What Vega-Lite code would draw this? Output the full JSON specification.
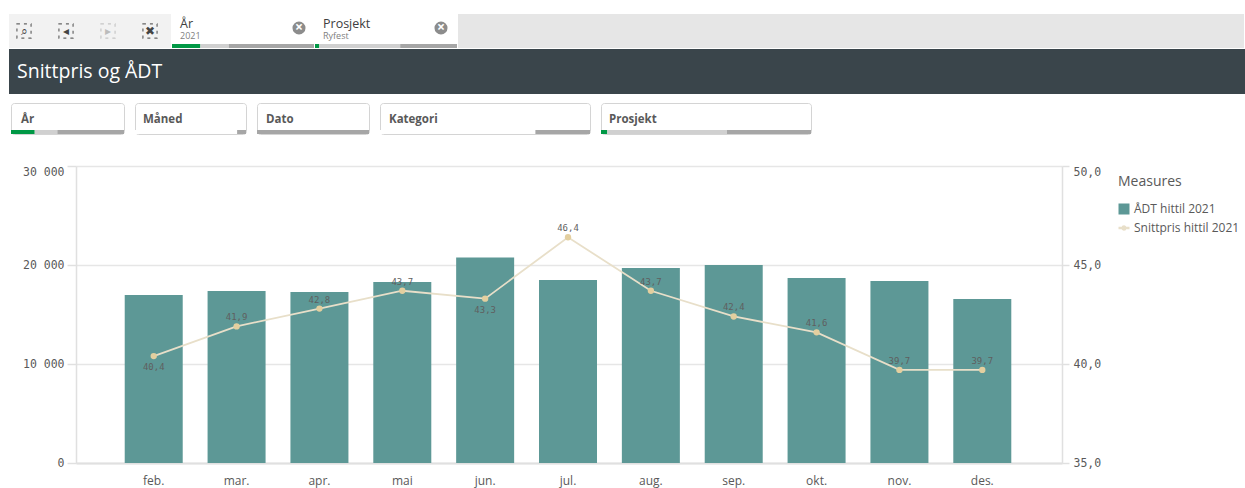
{
"$schema":"https://vega.github.io/schema/vega-lite/v6.json",
"padding":{"left":6,"top":14,"right":0,"bottom":8},
"background":"white",
"config":{"locale":{"number":{"decimal":",","thousands":"\u2009","grouping":[3],"currency":["","" ]}},"font":"Open Sans","concat":{"spacing":0}},
"spacing":28,
"resolve":{"scale":{"color":"independent"}},
"vconcat":[
{"spacing":6,"resolve":{"scale":{"color":"independent"}},"vconcat":[
 {"spacing":1,"resolve":{"scale":{"color":"independent"}},"vconcat":[
  {"spacing":1,"resolve":{"scale":{"color":"independent"}},"hconcat":[
   {"width":162,"height":34,"view":{"fill":"#f2f2f2","stroke":null},
    "data":{"values":[{"tool":"zoom","glyph":"⌕","c":"on"},{"tool":"back","glyph":"◂","c":"on"},{"tool":"forward","glyph":"▸","c":"off"},{"tool":"clear","glyph":"✖","c":"on"}]},
    "encoding":{"x":{"field":"tool","type":"nominal","sort":null,"scale":{"type":"point","padding":0,"domain":["zoom","back","forward","clear"],"range":[15,141]},"axis":null},
      "opacity":{"field":"c","type":"nominal","scale":{"domain":["on","off"],"range":[1,0.3]},"legend":null}},
    "layer":[{"mark":{"type":"point","shape":"square","size":200,"filled":false,"stroke":"#666","strokeWidth":1.2,"strokeDash":[3,4]}},
     {"mark":{"type":"text","fontSize":12,"color":"#444","font":"DejaVu Sans"},"encoding":{"text":{"field":"glyph"}}}]},
   {"width":142,"height":34,"view":{"fill":"white","stroke":null},
    "title":{"text":"År","subtitle":"2021","anchor":"start","frame":"group","offset":-27,"dx":8,"fontSize":12.5,"fontWeight":"normal","color":"#404040","font":"Open Sans","subtitleFontSize":9,"subtitleColor":"#808080","subtitlePadding":2,"subtitleFont":"Open Sans"},
    "layer":[
     {"data":{"values":[{"row":"strip","state":"selected","share":20,"i":1},{"row":"strip","state":"possible","share":20,"i":2},{"row":"strip","state":"excluded","share":60,"i":3}]},
      "mark":{"type":"bar","size":4},
      "encoding":{"x":{"field":"share","type":"quantitative","stack":"zero","scale":{"domain":[0,100],"nice":false},"axis":null},"y":{"field":"row","type":"nominal","scale":{"type":"point","padding":0,"domain":["close","strip"],"range":[14,32]},"axis":null},"color":{"field":"state","type":"nominal","scale":{"domain":["selected","possible","excluded","none"],"range":["#009845","#d0d0d0","#a6a6a6","#ffffff"]},"legend":null},"order":{"field":"i"}}},
     {"data":{"values":[{"row":"close","icon":"close"}]},"mark":{"type":"point","filled":true,"size":170,"color":"#8c8c8c","opacity":1},
      "encoding":{"x":{"field":"icon","type":"nominal","scale":{"type":"point","domain":["close"],"range":[127,127]},"axis":null},"y":{"field":"row","type":"nominal","scale":{"type":"point","padding":0,"domain":["close","strip"],"range":[14,32]},"axis":null}}},
     {"data":{"values":[{"row":"close","icon":"close","g":"×"}]},"mark":{"type":"text","color":"white","fontSize":14,"fontWeight":"bold"},
      "encoding":{"text":{"field":"g"},"x":{"field":"icon","type":"nominal","scale":{"type":"point","domain":["close"],"range":[127,127]},"axis":null},"y":{"field":"row","type":"nominal","scale":{"type":"point","padding":0,"domain":["close","strip"],"range":[14,32]},"axis":null}}}
    ],"resolve":{"scale":{"x":"independent"}}},
   {"width":142,"height":34,"view":{"fill":"white","stroke":null},
    "title":{"text":"Prosjekt","subtitle":"Ryfest","anchor":"start","frame":"group","offset":-27,"dx":8,"fontSize":12.5,"fontWeight":"normal","color":"#404040","font":"Open Sans","subtitleFontSize":9,"subtitleColor":"#808080","subtitlePadding":2,"subtitleFont":"Open Sans"},
    "layer":[
     {"data":{"values":[{"row":"strip","state":"selected","share":3,"i":1},{"row":"strip","state":"possible","share":57,"i":2},{"row":"strip","state":"excluded","share":40,"i":3}]},
      "mark":{"type":"bar","size":4},
      "encoding":{"x":{"field":"share","type":"quantitative","stack":"zero","scale":{"domain":[0,100],"nice":false},"axis":null},"y":{"field":"row","type":"nominal","scale":{"type":"point","padding":0,"domain":["close","strip"],"range":[14,32]},"axis":null},"color":{"field":"state","type":"nominal","scale":{"domain":["selected","possible","excluded","none"],"range":["#009845","#d0d0d0","#a6a6a6","#ffffff"]},"legend":null},"order":{"field":"i"}}},
     {"data":{"values":[{"row":"close","icon":"close"}]},"mark":{"type":"point","filled":true,"size":170,"color":"#8c8c8c","opacity":1},
      "encoding":{"x":{"field":"icon","type":"nominal","scale":{"type":"point","domain":["close"],"range":[126,126]},"axis":null},"y":{"field":"row","type":"nominal","scale":{"type":"point","padding":0,"domain":["close","strip"],"range":[14,32]},"axis":null}}},
     {"data":{"values":[{"row":"close","icon":"close","g":"×"}]},"mark":{"type":"text","color":"white","fontSize":14,"fontWeight":"bold"},
      "encoding":{"text":{"field":"g"},"x":{"field":"icon","type":"nominal","scale":{"type":"point","domain":["close"],"range":[126,126]},"axis":null},"y":{"field":"row","type":"nominal","scale":{"type":"point","padding":0,"domain":["close","strip"],"range":[14,32]},"axis":null}}}
    ],"resolve":{"scale":{"x":"independent"}}},
   {"width":786,"height":34,"view":{"fill":"#e6e6e6","stroke":null},"data":{"values":[{}]},"mark":{"type":"point","opacity":0}}
  ]},
  {"width":1236,"height":45,"view":{"fill":"#3a454b","stroke":null},"data":{"values":[{}]},"mark":{"type":"point","opacity":0},
   "title":{"text":"Snittpris og ÅDT","anchor":"start","frame":"group","offset":-33,"dx":8,"fontSize":19.5,"fontWeight":"normal","color":"#ffffff","font":"Open Sans"}}
 ]},
 {"spacing":1,"bounds":"flush","resolve":{"scale":{"color":"independent"}},"hconcat":[
  {"width":1,"height":1,"view":{"stroke":null},"data":{"values":[{}]},"mark":{"type":"point","opacity":0}},
  {"spacing":11,"bounds":"flush","resolve":{"scale":{"color":"independent"}},"hconcat":[
   {"width":113,"height":31,"view":{"fill":"white","stroke":"#d4d4d4","cornerRadius":3},
    "title":{"text":"År","anchor":"start","frame":"group","offset":-22,"dx":10,"fontSize":11.5,"fontWeight":"bold","color":"#595959","font":"Open Sans"},
    "data":{"values":[{"state":"selected","share":21,"i":1},{"state":"possible","share":20,"i":2},{"state":"excluded","share":59,"i":3}]},
    "mark":{"type":"bar","size":4},
    "encoding":{"x":{"field":"share","type":"quantitative","stack":"zero","scale":{"domain":[0,100],"nice":false},"axis":null},"y":{"datum":"strip","type":"nominal","scale":{"type":"point","domain":["strip"],"range":[29,29]},"axis":null},"color":{"field":"state","type":"nominal","scale":{"domain":["selected","possible","excluded","none"],"range":["#009845","#d0d0d0","#a6a6a6","#ffffff"]},"legend":null},"order":{"field":"i"}}},
   {"width":111,"height":31,"view":{"fill":"white","stroke":"#d4d4d4","cornerRadius":3},
    "title":{"text":"Måned","anchor":"start","frame":"group","offset":-22,"dx":8,"fontSize":11.5,"fontWeight":"bold","color":"#595959","font":"Open Sans"},
    "data":{"values":[{"state":"none","share":92,"i":1},{"state":"excluded","share":8,"i":2}]},
    "mark":{"type":"bar","size":4},
    "encoding":{"x":{"field":"share","type":"quantitative","stack":"zero","scale":{"domain":[0,100],"nice":false},"axis":null},"y":{"datum":"strip","type":"nominal","scale":{"type":"point","domain":["strip"],"range":[29,29]},"axis":null},"color":{"field":"state","type":"nominal","scale":{"domain":["selected","possible","excluded","none"],"range":["#009845","#d0d0d0","#a6a6a6","#ffffff"]},"legend":null},"order":{"field":"i"}}},
   {"width":112,"height":31,"view":{"fill":"white","stroke":"#d4d4d4","cornerRadius":3},
    "title":{"text":"Dato","anchor":"start","frame":"group","offset":-22,"dx":9,"fontSize":11.5,"fontWeight":"bold","color":"#595959","font":"Open Sans"},
    "data":{"values":[{"state":"excluded","share":100,"i":1}]},
    "mark":{"type":"bar","size":4},
    "encoding":{"x":{"field":"share","type":"quantitative","stack":"zero","scale":{"domain":[0,100],"nice":false},"axis":null},"y":{"datum":"strip","type":"nominal","scale":{"type":"point","domain":["strip"],"range":[29,29]},"axis":null},"color":{"field":"state","type":"nominal","scale":{"domain":["selected","possible","excluded","none"],"range":["#009845","#d0d0d0","#a6a6a6","#ffffff"]},"legend":null},"order":{"field":"i"}}},
   {"width":210,"height":31,"view":{"fill":"white","stroke":"#d4d4d4","cornerRadius":3},
    "title":{"text":"Kategori","anchor":"start","frame":"group","offset":-22,"dx":9,"fontSize":11.5,"fontWeight":"bold","color":"#595959","font":"Open Sans"},
    "data":{"values":[{"state":"none","share":74,"i":1},{"state":"excluded","share":26,"i":2}]},
    "mark":{"type":"bar","size":4},
    "encoding":{"x":{"field":"share","type":"quantitative","stack":"zero","scale":{"domain":[0,100],"nice":false},"axis":null},"y":{"datum":"strip","type":"nominal","scale":{"type":"point","domain":["strip"],"range":[29,29]},"axis":null},"color":{"field":"state","type":"nominal","scale":{"domain":["selected","possible","excluded","none"],"range":["#009845","#d0d0d0","#a6a6a6","#ffffff"]},"legend":null},"order":{"field":"i"}}},
   {"width":210,"height":31,"view":{"fill":"white","stroke":"#d4d4d4","cornerRadius":3},
    "title":{"text":"Prosjekt","anchor":"start","frame":"group","offset":-22,"dx":8,"fontSize":11.5,"fontWeight":"bold","color":"#595959","font":"Open Sans"},
    "data":{"values":[{"state":"selected","share":3,"i":1},{"state":"possible","share":57,"i":2},{"state":"excluded","share":40,"i":3}]},
    "mark":{"type":"bar","size":4},
    "encoding":{"x":{"field":"share","type":"quantitative","stack":"zero","scale":{"domain":[0,100],"nice":false},"axis":null},"y":{"datum":"strip","type":"nominal","scale":{"type":"point","domain":["strip"],"range":[29,29]},"axis":null},"color":{"field":"state","type":"nominal","scale":{"domain":["selected","possible","excluded","none"],"range":["#009845","#d0d0d0","#a6a6a6","#ffffff"]},"legend":null},"order":{"field":"i"}}}
  ]}
 ]}
]},
{"spacing":1,"bounds":"flush","resolve":{"scale":{"color":"independent"}},"hconcat":[
 {"width":66,"height":1,"view":{"stroke":null},"data":{"values":[{}]},"mark":{"type":"point","opacity":0}},
 {"width":986,"height":297,"view":{"stroke":null},
  "data":{"values":[
   {"month":"feb.","adt":16970,"pris":40.4},
   {"month":"mar.","adt":17370,"pris":41.9},
   {"month":"apr.","adt":17270,"pris":42.8},
   {"month":"mai","adt":18280,"pris":43.7},
   {"month":"jun.","adt":20750,"pris":43.3},
   {"month":"jul.","adt":18480,"pris":46.4},
   {"month":"aug.","adt":19700,"pris":43.7},
   {"month":"sep.","adt":20000,"pris":42.4},
   {"month":"okt.","adt":18690,"pris":41.6},
   {"month":"nov.","adt":18380,"pris":39.7},
   {"month":"des.","adt":16570,"pris":39.7}]},
  "encoding":{"x":{"field":"month","type":"nominal","sort":null,"scale":{"paddingInner":0.3,"paddingOuter":0.6,"align":0.49},"axis":{"title":null,"labelAngle":0,"ticks":false,"domainColor":"#e0e0e0","domainWidth":2,"labelPadding":12,"labelFontSize":12,"labelColor":"#595959","labelFont":"Open Sans"}}},
  "layer":[
   {"mark":{"type":"bar"},
    "encoding":{"y":{"field":"adt","type":"quantitative","scale":{"domain":[0,30000],"nice":false},
      "axis":{"title":null,"values":[0,10000,20000,30000],"format":",d","grid":true,"gridColor":"#e6e6e6","gridWidth":1.5,"domainColor":"#e0e0e0","domainWidth":1.5,"tickColor":"#e0e0e0","tickSize":9,"tickWidth":1.5,"labelFont":"DejaVu Sans Mono","labelFontSize":11.5,"labelColor":"#595959","labelPadding":3,"labelBaseline":{"condition":{"test":"datum.value==30000","value":"top"},"value":"middle"}}},
     "color":{"datum":"ÅDT hittil 2021","type":"nominal","scale":{"domain":["ÅDT hittil 2021","Snittpris hittil 2021"],"range":["#5d9896","#e8dfc9"]},
      "legend":{"orient":"none","legendX":1042,"legendY":9,"title":"Measures","titleFontSize":14,"titleFontWeight":"normal","titleColor":"#595959","titleFont":"Open Sans","labelFont":"Open Sans","labelFontSize":12,"labelColor":"#595959","symbolSize":90,"rowPadding":5,"titlePadding":14,
       "encode":{"symbols":{"update":{"shape":{"signal":"datum.label=='ÅDT hittil 2021' ? 'square' : 'M-1,-.08H-.35A.35,.35 0 0 1 .35,-.08H1V.08H.35A.35,.35 0 0 1 -.35,.08H-1Z'"},"fill":{"signal":"datum.label=='ÅDT hittil 2021' ? '#5d9896' : '#e3cf9f'"},"stroke":{"value":"transparent"}}}}}}}},
   {"layer":[
     {"mark":{"type":"line","strokeWidth":1.8},"encoding":{"color":{"datum":"Snittpris hittil 2021","type":"nominal"}}},
     {"mark":{"type":"point","filled":true,"size":40,"color":"#e3cf9f","opacity":1}},
     {"transform":[{"filter":{"field":"month","oneOf":["feb.","jun."]}}],"mark":{"type":"text","dy":11,"font":"DejaVu Sans Mono","fontSize":9,"color":"#5f5f5f"},"encoding":{"text":{"field":"pris","type":"quantitative","format":".1f"}}},
     {"transform":[{"filter":{"not":{"field":"month","oneOf":["feb.","jun."]}}}],"mark":{"type":"text","dy":-9,"font":"DejaVu Sans Mono","fontSize":9,"color":"#5f5f5f"},"encoding":{"text":{"field":"pris","type":"quantitative","format":".1f"}}}
    ],
    "encoding":{"y":{"field":"pris","type":"quantitative","scale":{"domain":[35,50],"nice":false,"zero":false},
      "axis":{"title":null,"orient":"right","values":[35,40,45,50],"format":".1f","grid":false,"domainColor":"#e0e0e0","domainWidth":1.5,"tickColor":"#e0e0e0","tickSize":7,"tickWidth":1.5,"labelFont":"DejaVu Sans Mono","labelFontSize":11.5,"labelColor":"#595959","labelPadding":4,"labelBaseline":{"condition":{"test":"datum.value==50","value":"top"},"value":"middle"}}}}}
  ],
  "resolve":{"scale":{"y":"independent"}}}
]}
]}
